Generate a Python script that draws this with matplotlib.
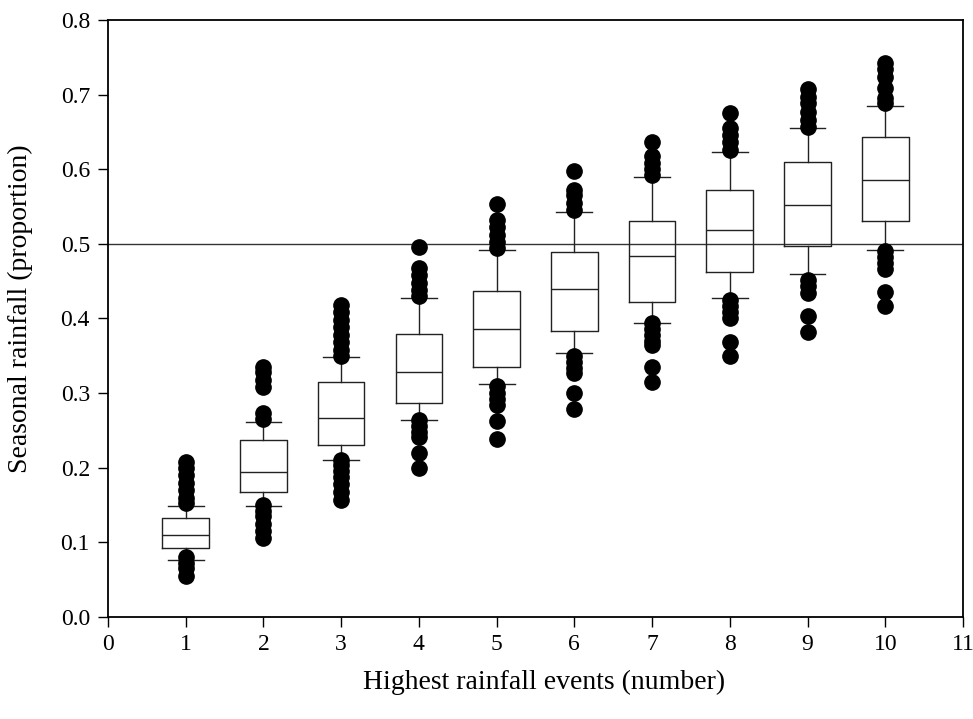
import matplotlib.pyplot as plt

plt.rcParams['font.family'] = ['Liberation Serif', 'DejaVu Serif']

# number of highest rainfall events
events = [1, 2, 3, 4, 5, 6, 7, 8, 9, 10]

# box statistics
q1 = [0.093, 0.168, 0.231, 0.286, 0.335, 0.383, 0.422, 0.462, 0.497, 0.530]
med = [0.110, 0.194, 0.267, 0.328, 0.386, 0.440, 0.484, 0.519, 0.552, 0.586]
q3 = [0.132, 0.237, 0.315, 0.379, 0.437, 0.489, 0.531, 0.572, 0.609, 0.643]
whis_lo = [0.076, 0.149, 0.210, 0.264, 0.312, 0.353, 0.394, 0.428, 0.459, 0.492]
whis_hi = [0.148, 0.261, 0.348, 0.428, 0.492, 0.542, 0.590, 0.623, 0.655, 0.685]

# outliers
fliers = [
    [0.208, 0.200, 0.190, 0.180, 0.170, 0.160, 0.153, 0.080, 0.072, 0.065, 0.055],
    [0.335, 0.328, 0.318, 0.308, 0.273, 0.265, 0.150, 0.142, 0.135, 0.125, 0.115, 0.106],
    [0.418, 0.408, 0.398, 0.388, 0.378, 0.368, 0.358, 0.350, 0.210, 0.203, 0.196,
     0.188, 0.178, 0.168, 0.157],
    [0.496, 0.467, 0.458, 0.448, 0.438, 0.430, 0.264, 0.256, 0.248, 0.241, 0.219, 0.199],
    [0.553, 0.532, 0.522, 0.512, 0.502, 0.494, 0.309, 0.300, 0.292, 0.284, 0.262, 0.239],
    [0.597, 0.572, 0.565, 0.555, 0.545, 0.349, 0.341, 0.334, 0.327, 0.300, 0.279],
    [0.637, 0.617, 0.608, 0.600, 0.592, 0.394, 0.386, 0.378, 0.370, 0.365, 0.335, 0.315],
    [0.675, 0.655, 0.646, 0.636, 0.626, 0.425, 0.417, 0.409, 0.401, 0.369, 0.349],
    [0.708, 0.697, 0.688, 0.676, 0.666, 0.657, 0.452, 0.443, 0.434, 0.403, 0.382],
    [0.742, 0.734, 0.723, 0.709, 0.696, 0.688, 0.490, 0.482, 0.474, 0.466, 0.436, 0.416],
]

stats = []
for i in range(len(events)):
    stats.append({'med': med[i], 'q1': q1[i], 'q3': q3[i],
                  'whislo': whis_lo[i], 'whishi': whis_hi[i],
                  'fliers': fliers[i]})

fig = plt.figure(figsize=(9.73, 7.19), dpi=100)
ax = fig.add_axes([0.111, 0.142, 0.8787, 0.8303])

lw = 1.0
ax.bxp(stats, positions=events, widths=0.6, capwidths=0.46,
       boxprops=dict(color='#222222', linewidth=lw),
       medianprops=dict(color='#222222', linewidth=lw),
       whiskerprops=dict(color='#222222', linewidth=lw),
       capprops=dict(color='#222222', linewidth=lw),
       flierprops=dict(marker='o', markerfacecolor='black', markeredgecolor='black',
                       markersize=11, linestyle='none'),
       manage_ticks=False)

ax.axhline(0.5, color='#333333', linewidth=1.0, zorder=0)

ax.set_xlim(0, 11)
ax.set_ylim(0, 0.8)
ax.set_xticks(range(0, 12))
ax.set_yticks([i / 10 for i in range(9)])
ax.set_yticklabels(['%.1f' % (i / 10) for i in range(9)])
ax.tick_params(direction='out', length=7, width=1.0, labelsize=17, pad=6)
ax.tick_params(axis='x', pad=5)
for s in ax.spines.values():
    s.set_linewidth(1.3)

ax.set_xlabel('Highest rainfall events (number)', fontsize=20)
ax.set_ylabel('Seasonal rainfall (proportion)', fontsize=20)
ax.xaxis.set_label_coords(0.51, -0.088)
ax.yaxis.set_label_coords(-0.088, 0.516)

fig.savefig('out.png', dpi=100)
